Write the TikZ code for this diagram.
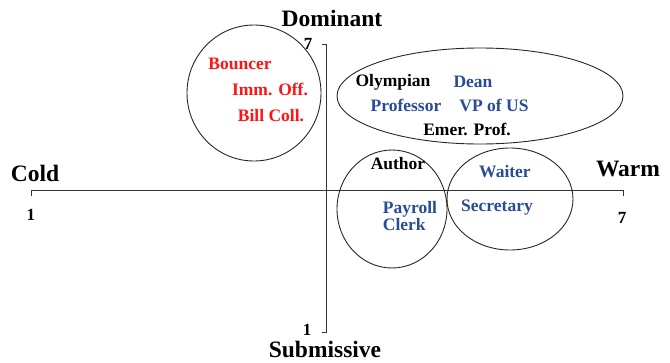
\documentclass[tikz,border=0pt]{standalone}
\usepackage{fontspec}
\setmainfont{Liberation Serif}
\usepackage{xcolor}
\usetikzlibrary{positioning}
\definecolor{hotred}{RGB}{255,20,20}
\definecolor{jobblue}{RGB}{42,76,150}
\tikzset{
  axislbl/.style={font=\fontsize{23.5}{23.5}\selectfont\bfseries, inner sep=0pt},
  ticklbl/.style={font=\fontsize{17}{17}\selectfont\bfseries, inner sep=0pt},
  job/.style={font=\fontsize{17.5}{17.5}\selectfont\bfseries, inner sep=0pt},
  redjob/.style={job, text=hotred},
  bluejob/.style={job, text=jobblue},
  group/.style={line width=0.9pt, black!85}
}
\begin{document}
\begin{tikzpicture}[x=1pt, y=-1pt]
\useasboundingbox (0,0) rectangle (670,362);

\coordinate(O1) at (326,190);
\coordinate(wL) at (31,190);
\coordinate(wR) at (623,190);
\coordinate(dT) at (326,44);
\coordinate(dB) at (326,332);

% axes
\draw[line width=0.8pt, black!80] ([yshift=-6pt]wL) -- (wL) -- (wR) -- ([yshift=-6pt]wR);
\draw[line width=0.8pt, black!80] ([xshift=-4pt]dT) -- (dT) -- (dB) -- ([xshift=-4pt]dB);

\node[axislbl](dom) at (332,18) {Dominant};
\node[axislbl, anchor=base](sub) at (325,357) {Submissive};
\node[axislbl](cold) at (35,173) {Cold};
\node[axislbl](warm) at (628,169) {Warm};
\node[ticklbl](d7) at (308,44) {7};
\node[ticklbl](d1) at (307,330) {1};
\node[ticklbl](w1) at (31,215) {1};
\node[ticklbl](w7) at (622,218) {7};

% groups
\draw[group] (254,93) ellipse (67 and 68);
\draw[group] (480,96) ellipse (143 and 48);
\draw[group] (392,209) ellipse (55 and 59);
\draw[group] (510,199) ellipse (63 and 51);

\node[redjob](bouncer) at (240,64) {Bouncer};
\node[redjob](imm) at (270,89) {Imm. Off.};
\node[redjob](bill) at (271,116) {Bill Coll.};

\node[job](olym) at (393,82) {Olympian};
\node[bluejob](dean) at (473,82) {Dean};
\node[bluejob](prof) at (406,105) {Professor};
\node[bluejob](vp) at (494,105) {VP of US};
\node[job](emer) at (467,129) {Emer. Prof.};

\node[job](author) at (398,164) {Author};
\node[bluejob](waiter) at (505,172) {Waiter};
\node[bluejob, align=left](payroll) at (410,216) {Payroll\\Clerk};
\node[bluejob](secr) at (497,208) {Secretary};
\end{tikzpicture}
\end{document}
